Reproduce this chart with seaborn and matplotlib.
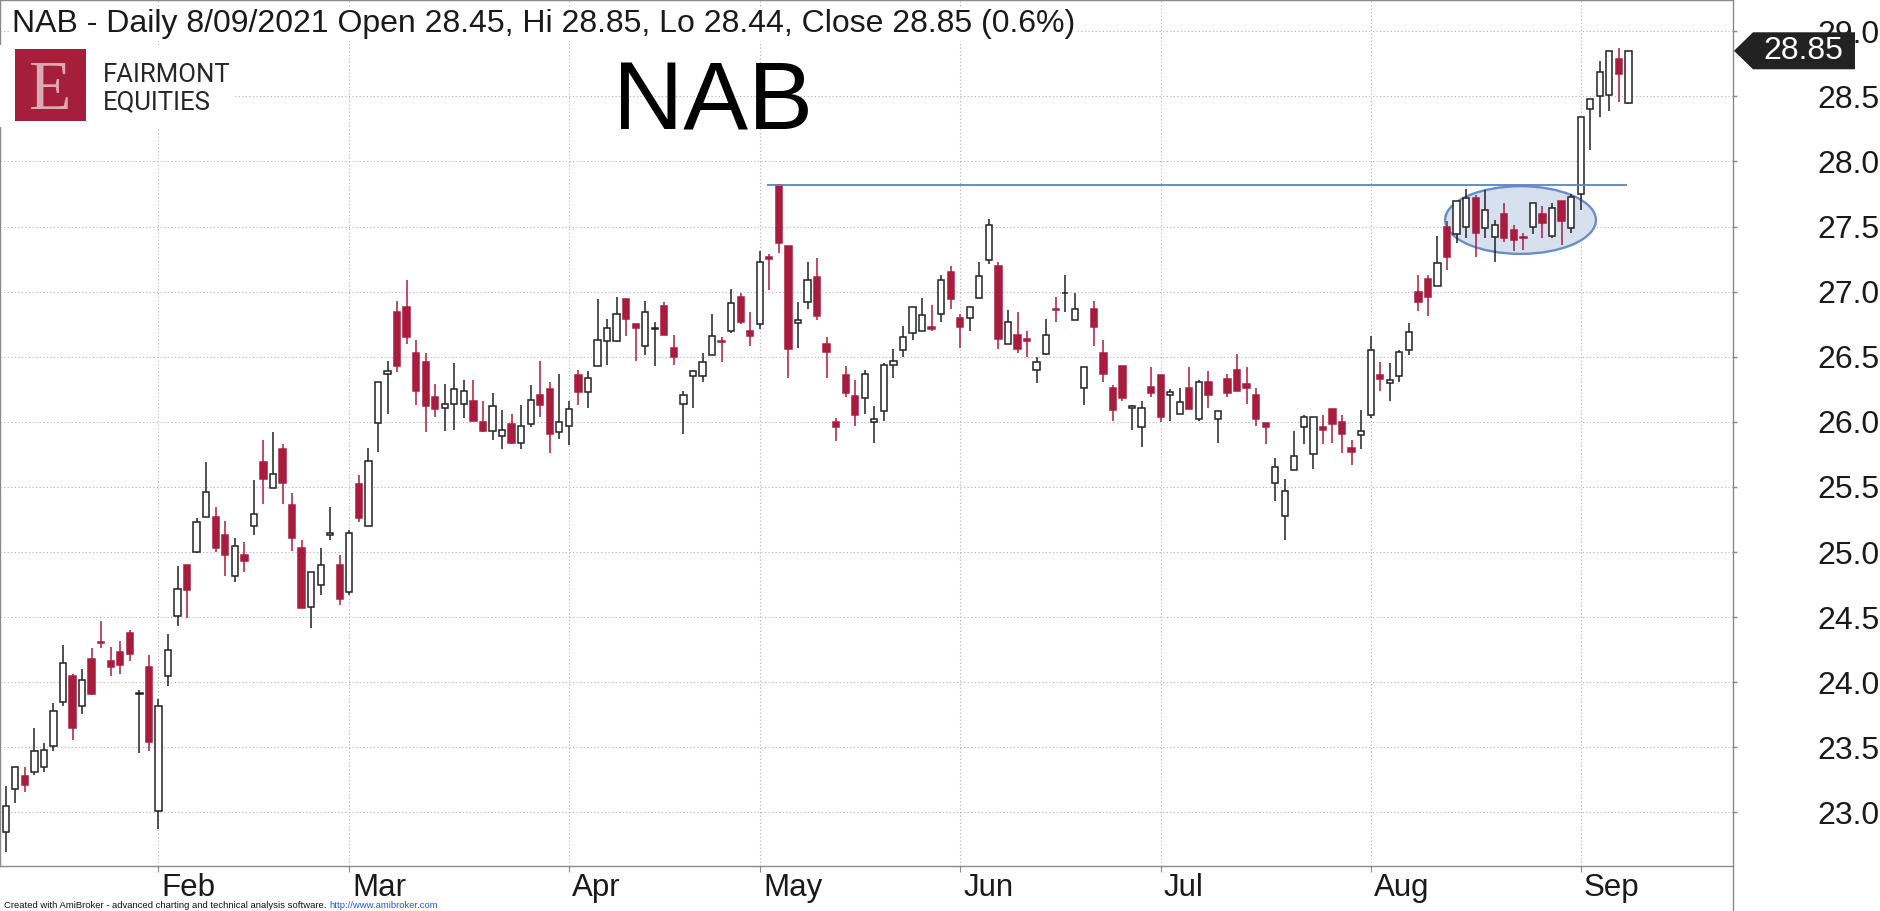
import numpy as np
import pandas as pd
import matplotlib
matplotlib.use("Agg")
import matplotlib.pyplot as plt
import seaborn as sns
from matplotlib import font_manager
from matplotlib.patches import Ellipse, Polygon, Rectangle
from matplotlib.lines import Line2D
from matplotlib.transforms import IdentityTransform

# ---------------- data ----------------
ticker = "NAB"
asx_holidays = ["2021-01-26", "2021-04-02", "2021-04-05", "2021-06-14"]
dates = pd.bdate_range("2021-01-07", "2021-09-08", freq="C", holidays=asx_holidays)

opens = [22.85, 23.18, 23.28, 23.31, 23.35, 23.51, 23.85, 24.05, 23.82, 24.18,
         24.31, 24.16, 24.23, 24.38, 23.91, 24.12, 23.01, 24.05, 24.51, 24.90,
         25.00, 25.27, 25.27, 25.13, 24.82, 24.98, 25.20, 25.69, 25.49, 25.79,
         25.36, 25.03, 24.58, 24.75, 25.13, 24.90, 24.69, 25.52, 25.20, 25.99,
         26.37, 26.84, 26.88, 26.53, 26.46, 26.19, 26.11, 26.14, 26.14, 26.16,
         26.00, 25.93, 25.89, 25.98, 25.84, 25.98, 26.21, 26.25, 25.92, 25.97,
         26.36, 26.23, 26.43, 26.62, 26.62, 26.94, 26.75, 26.58, 26.71, 26.89,
         26.57, 26.14, 26.35, 26.35, 26.51, 26.62, 26.70, 26.96, 26.70, 26.75,
         27.27, 27.82, 27.35, 26.76, 26.92, 27.11, 26.60, 26.00, 26.36, 26.20,
         26.18, 26.00, 26.08, 26.44, 26.55, 26.68, 26.70, 26.73, 26.83, 27.15,
         26.80, 26.80, 26.95, 27.24, 27.20, 26.60, 26.67, 26.64, 26.40, 26.52,
         26.87, 26.99, 26.78, 26.26, 26.87, 26.53, 26.26, 26.43, 26.11, 25.96,
         26.27, 26.36, 26.21, 26.06, 26.26, 26.02, 26.31, 26.02, 26.33, 26.40,
         26.29, 26.21, 25.99, 25.53, 25.28, 25.63, 25.96, 25.75, 25.96, 26.10,
         26.00, 25.80, 25.90, 26.05, 26.36, 26.30, 26.35, 26.55, 27.00, 27.10,
         27.04, 27.50, 27.44, 27.50, 27.72, 27.49, 27.42, 27.60, 27.47, 27.42,
         27.50, 27.60, 27.43, 27.70, 27.49, 27.75, 28.40, 28.50, 28.51, 28.79,
         28.45]
highs = [23.20, 23.35, 23.35, 23.65, 23.53, 23.84, 24.29, 24.06, 24.10, 24.26,
         24.47, 24.27, 24.32, 24.40, 23.94, 24.21, 23.87, 24.37, 24.89, 24.90,
         25.26, 25.69, 25.35, 25.24, 25.11, 25.08, 25.55, 25.86, 25.92, 25.83,
         25.45, 25.09, 24.85, 25.03, 25.35, 24.98, 25.17, 25.59, 25.80, 26.31,
         26.47, 26.93, 27.09, 26.63, 26.53, 26.29, 26.29, 26.45, 26.32, 26.32,
         26.16, 26.22, 26.09, 26.06, 26.13, 26.28, 26.47, 26.31, 26.37, 26.16,
         26.40, 26.39, 26.94, 26.79, 26.96, 26.94, 26.75, 26.93, 26.77, 26.92,
         26.67, 26.24, 26.40, 26.53, 26.83, 26.65, 27.02, 26.99, 26.84, 27.31,
         27.29, 27.83, 27.35, 26.92, 27.23, 27.26, 26.65, 26.03, 26.43, 26.32,
         26.40, 26.12, 26.45, 26.56, 26.74, 26.88, 26.95, 26.90, 27.13, 27.20,
         26.83, 26.88, 27.23, 27.56, 27.23, 26.86, 26.84, 26.70, 26.50, 26.79,
         26.96, 27.13, 26.99, 26.42, 26.93, 26.63, 26.28, 26.43, 26.13, 26.16,
         26.42, 26.36, 26.25, 26.26, 26.42, 26.32, 26.39, 26.08, 26.37, 26.52,
         26.42, 26.26, 25.99, 25.72, 25.56, 25.93, 26.05, 26.04, 26.05, 26.10,
         26.05, 25.86, 26.09, 26.66, 26.46, 26.45, 26.55, 26.76, 27.13, 27.13,
         27.43, 27.54, 27.70, 27.79, 27.74, 27.78, 27.55, 27.68, 27.51, 27.45,
         27.68, 27.66, 27.68, 27.70, 27.75, 28.34, 28.48, 28.77, 28.85, 28.87,
         28.85]
lows = [22.70, 23.07, 23.16, 23.29, 23.31, 23.47, 23.82, 23.56, 23.76, 23.90,
        24.26, 24.05, 24.06, 24.16, 23.46, 23.47, 22.87, 23.97, 24.43, 24.49,
        24.99, 25.27, 25.00, 24.82, 24.77, 24.85, 25.13, 25.37, 25.49, 25.37,
        25.01, 24.57, 24.42, 24.67, 25.09, 24.59, 24.67, 25.23, 25.20, 25.77,
        26.06, 26.38, 26.60, 26.13, 25.92, 26.04, 25.93, 25.94, 26.03, 26.01,
        25.92, 25.86, 25.79, 25.83, 25.79, 25.96, 26.04, 25.76, 25.87, 25.82,
        26.13, 26.11, 26.43, 26.44, 26.61, 26.66, 26.47, 26.51, 26.43, 26.67,
        26.44, 25.91, 26.11, 26.31, 26.51, 26.46, 26.68, 26.75, 26.58, 26.71,
        27.01, 27.30, 26.34, 26.57, 26.87, 26.78, 26.34, 25.85, 26.19, 25.97,
        26.06, 25.84, 26.01, 26.34, 26.50, 26.63, 26.70, 26.70, 26.77, 26.87,
        26.57, 26.70, 26.95, 27.21, 26.56, 26.60, 26.53, 26.50, 26.30, 26.51,
        26.77, 26.84, 26.78, 26.13, 26.58, 26.31, 26.01, 26.16, 25.94, 25.81,
        26.19, 26.00, 26.01, 26.06, 26.10, 26.01, 26.11, 25.84, 26.19, 26.24,
        26.14, 25.97, 25.83, 25.39, 25.09, 25.63, 25.83, 25.64, 25.83, 25.84,
        25.76, 25.67, 25.79, 26.03, 26.24, 26.16, 26.31, 26.51, 26.85, 26.81,
        27.04, 27.17, 27.37, 27.41, 27.27, 27.41, 27.23, 27.38, 27.31, 27.32,
        27.44, 27.41, 27.41, 27.36, 27.45, 27.63, 28.09, 28.34, 28.39, 28.46,
        28.44]
closes = [23.05, 23.35, 23.21, 23.47, 23.48, 23.78, 24.15, 23.65, 24.02, 23.91,
          24.30, 24.12, 24.13, 24.22, 23.92, 23.54, 23.82, 24.25, 24.72, 24.71,
          25.23, 25.46, 25.03, 24.98, 25.05, 24.93, 25.29, 25.56, 25.60, 25.53,
          25.11, 24.57, 24.85, 24.90, 25.15, 24.64, 25.15, 25.26, 25.70, 26.31,
          26.39, 26.43, 26.65, 26.24, 26.12, 26.10, 26.14, 26.25, 26.24, 26.01,
          25.93, 26.12, 25.94, 25.84, 25.97, 26.17, 26.13, 25.91, 26.00, 26.10,
          26.23, 26.34, 26.63, 26.72, 26.83, 26.79, 26.72, 26.84, 26.72, 26.67,
          26.50, 26.21, 26.39, 26.46, 26.66, 26.61, 26.91, 26.77, 26.66, 27.23,
          27.25, 27.37, 26.56, 26.78, 27.09, 26.81, 26.54, 25.96, 26.22, 26.05,
          26.37, 26.02, 26.44, 26.47, 26.65, 26.88, 26.82, 26.71, 27.09, 26.94,
          26.73, 26.88, 27.12, 27.51, 26.64, 26.77, 26.56, 26.62, 26.46, 26.67,
          26.86, 26.99, 26.87, 26.42, 26.73, 26.37, 26.09, 26.18, 26.12, 26.11,
          26.22, 26.04, 26.23, 26.15, 26.10, 26.31, 26.21, 26.08, 26.22, 26.24,
          26.26, 26.02, 25.96, 25.65, 25.47, 25.74, 26.04, 26.04, 25.94, 25.98,
          25.91, 25.77, 25.93, 26.55, 26.33, 26.32, 26.54, 26.69, 26.92, 26.96,
          27.22, 27.27, 27.70, 27.72, 27.45, 27.63, 27.51, 27.41, 27.40, 27.41,
          27.68, 27.53, 27.64, 27.54, 27.73, 28.34, 28.48, 28.69, 28.85, 28.67,
          28.85]

price_ticks = [23.0, 23.5, 24.0, 24.5, 25.0, 25.5, 26.0, 26.5, 27.0, 27.5, 28.0, 28.5, 29.0]
resistance_level = 27.82
resistance_span = (79.8, 169.9)             # trading-day index range of the drawn line
zone_center = (158.7, 27.55)                 # consolidation ellipse (index, price)
zone_size = (15.8, 0.52)

assert len(dates) == len(opens) == len(highs) == len(lows) == len(closes)

df = pd.DataFrame({"date": dates, "open": opens, "high": highs,
                   "low": lows, "close": closes})
df["idx"] = np.arange(len(df))
df["up"] = df["close"] >= df["open"]

# ---------------- style ----------------
W, H, DPI = 1880, 911, 100
sns.set_theme(style="white")
plt.rcParams["font.family"] = ["Liberation Sans", "DejaVu Sans"]

names = {f.name for f in font_manager.fontManager.ttflist}
big_font = "Liberation Sans Narrow" if "Liberation Sans Narrow" in names else "Liberation Sans"
big_size = 78 if big_font == "Liberation Sans Narrow" else 70

RED = "#a81c3e"
DARK = "#222222"
GRID = "#b0b0b0"
SPINE = "#8a8a8a"

fig = plt.figure(figsize=(W / DPI, H / DPI), dpi=DPI, facecolor="white")
ax = fig.add_axes([0, 45 / H, 1733 / W, 866 / H])
ax.set_facecolor("white")

# ---------------- candles ----------------
body_w = 0.66
up = df[df["up"]]
dn = df[~df["up"]]
ax.vlines(up["idx"], up["low"], up["high"], color=DARK, lw=1.1, zorder=3)
ax.vlines(dn["idx"], dn["low"], dn["high"], color=RED, lw=1.1, zorder=3)
ax.bar(up["idx"], (up["close"] - up["open"]).abs(), bottom=np.minimum(up["open"], up["close"]),
       width=body_w, color="white", edgecolor=DARK, linewidth=1.1, zorder=4)
ax.bar(dn["idx"], (dn["close"] - dn["open"]).abs(), bottom=np.minimum(dn["open"], dn["close"]),
       width=body_w, color=RED, edgecolor=RED, linewidth=1.1, zorder=4)

# consolidation ellipse and resistance line
ax.add_patch(Ellipse(zone_center, zone_size[0], zone_size[1], facecolor="#d7e0ee",
                     edgecolor="#6a8cc8", lw=1.7, zorder=2))
ax.hlines(resistance_level, resistance_span[0], resistance_span[1], color="#5f82c2",
          lw=1.3, zorder=6)

# ---------------- axes ----------------
ax.set_xlim(-0.6, 180.96)
ax.set_ylim(22.589, 29.24)

month_start = df.groupby([df["date"].dt.year, df["date"].dt.month])["idx"].min().values[1:]
month_names = [df["date"][i].strftime("%b") for i in month_start]

ax.set_xticks(month_start)
ax.set_xticklabels([""] * len(month_start))
ax.yaxis.tick_right()
ax.set_yticks(price_ticks)
ax.set_yticklabels([f"{v:.1f}" for v in price_ticks])
ax.tick_params(axis="y", which="major", right=True, left=False, length=3, width=1,
               color=SPINE, pad=58, labelsize=23, labelcolor="#1a1a1a")
ax.tick_params(axis="x", which="major", bottom=True, length=4.3, width=0.8, color=SPINE)

ax.grid(True, which="major", axis="both", color=GRID, lw=0.8, linestyle=(0, (1, 2.2)))
ax.set_axisbelow(True)
for s in ax.spines.values():
    s.set_color(SPINE)
    s.set_linewidth(1.0)

for i, name in zip(month_start, month_names):
    ax.text(i + 0.35, -0.0345, name, transform=ax.get_xaxis_transform(), ha="left",
            va="baseline", fontsize=22.5, color="#1a1a1a")

# right axis line continues to the bottom of the picture
fig.add_artist(Line2D([1733 / W, 1733 / W], [0, 45 / H], color=SPINE, lw=1.0,
                      transform=fig.transFigure))

# ---------------- header ----------------
last = df.iloc[-1]
prev_close = df["close"].iloc[-2]
pct = (last["close"] / prev_close - 1) * 100
d = last["date"]
title = (f"{ticker} - Daily {d.day}/{d.month:02d}/{d.year} Open {last['open']:.2f}, "
         f"Hi {last['high']:.2f}, Lo {last['low']:.2f}, Close {last['close']:.2f} ({pct:.1f}%)")
fig.text(12 / W, 1 - 32 / H, title, ha="left", va="baseline", fontsize=23, color="#1a1a1a",
         bbox=dict(facecolor="white", edgecolor="none", pad=1.5), zorder=10)

fig.text(713 / W, 1 - 129 / H, ticker, ha="center", va="baseline", fontsize=big_size,
         family=big_font, color="black", zorder=10)

# logo
fig.add_artist(Rectangle((0, 1 - 127 / H), 235 / W, 82 / H, transform=fig.transFigure,
                         facecolor="white", edgecolor="none", zorder=9))
fig.add_artist(Rectangle((15 / W, 1 - 121 / H), 71 / W, 72 / H, transform=fig.transFigure,
                         facecolor="#a51f3c", edgecolor="none", zorder=10))
fig.text(50 / W, 1 - 109 / H, "E", ha="center", va="baseline", fontsize=50,
         family="Liberation Serif", color="#dfa8b3", zorder=11)
fig.text(103 / W, 1 - 82 / H, "FAIRMONT", ha="left", va="baseline", fontsize=18.5,
         family="Roboto", color="#262626", zorder=11)
fig.text(103 / W, 1 - 109 / H, "EQUITIES", ha="left", va="baseline", fontsize=18.5,
         family="Roboto", color="#262626", zorder=11)

# ---------------- last price tag ----------------
fig.canvas.draw()
tip_x = ax.transAxes.transform((1, 0))[0]
tip_y = ax.transData.transform((0, last["close"]))[1]
hh = 18.5
tag = Polygon([(tip_x + 1, tip_y), (tip_x + 20, tip_y + hh), (tip_x + 122, tip_y + hh),
               (tip_x + 122, tip_y - hh), (tip_x + 20, tip_y - hh)], closed=True,
              transform=IdentityTransform(), facecolor="#222222", edgecolor="none", zorder=20)
fig.add_artist(tag)
fig.text(tip_x + 70, tip_y, f"{last['close']:.2f}", transform=IdentityTransform(),
         ha="center", va="center", fontsize=23, color="white", zorder=21)

# ---------------- footer ----------------
foot1 = fig.text(4 / W, 1 - 908 / H, "Created with AmiBroker - advanced charting and technical analysis software. ",
                 ha="left", va="baseline", fontsize=6.8, color="#111111")
fig.canvas.draw()
bb = foot1.get_window_extent()
fig.text(bb.x1, bb.y0, "http://www.amibroker.com",
         transform=IdentityTransform(), ha="left", va="bottom", fontsize=6.8, color="#1f5fd0")

fig.savefig("out.png", dpi=DPI, facecolor="white")
